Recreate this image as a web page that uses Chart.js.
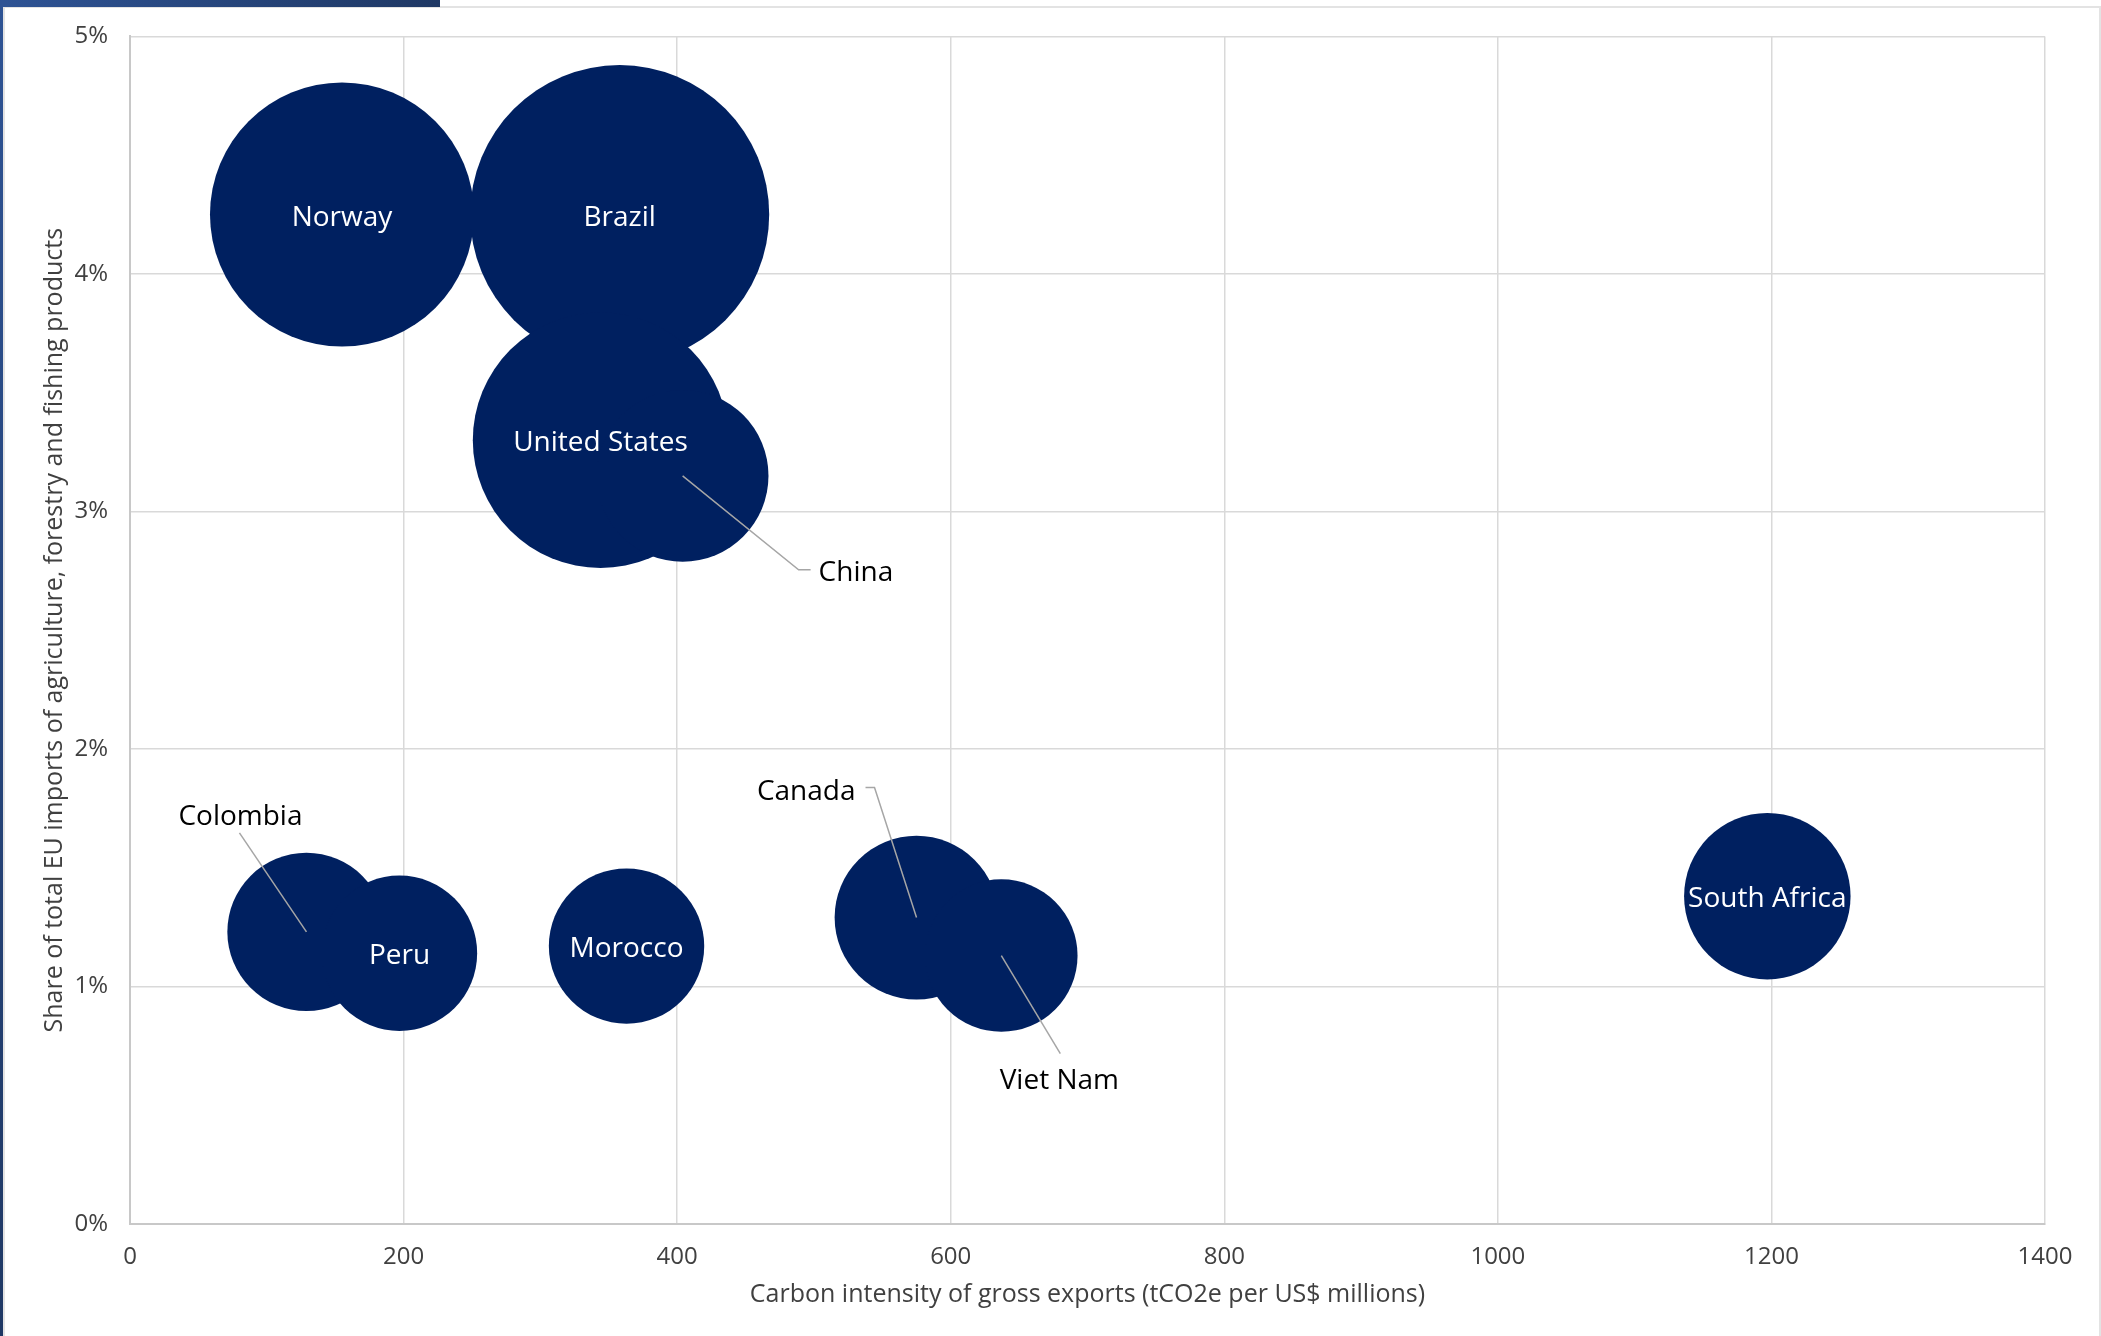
<!DOCTYPE html>
<html>
<head>
<meta charset="utf-8">
<title>EU imports vs carbon intensity</title>
<script src="https://cdn.jsdelivr.net/npm/chart.js@4.4.1/dist/chart.umd.min.js"></script>
<style>
  html, body { margin: 0; padding: 0; background: #fff; }
  body { width: 2101px; height: 1336px; position: relative; overflow: hidden; }
  #topBar { position: absolute; left: 0; top: 0; width: 440px; height: 7px; background: linear-gradient(90deg, #2e5394, #1f3864); z-index: 2; }
  #leftBar { position: absolute; left: 0; top: 0; width: 3px; height: 1336px; background: linear-gradient(180deg, #2e5394, #1f3864); z-index: 2; }
  #frame { position: absolute; left: 3px; top: 6px; width: 2098px; height: 1340px; border: 2px solid #e3e3e3; box-sizing: border-box; }
  #chartBox { position: absolute; left: 0; top: 0; width: 2101px; height: 1336px; }
</style>
</head>
<body>
<div id="topBar"></div>
<div id="leftBar"></div>
<div id="frame"></div>
<div id="chartBox"><canvas id="chart" width="2101" height="1336"></canvas></div>

<script>
// données
const countries = ['Norway', 'Brazil', 'United States', 'China', 'Colombia', 'Peru', 'Morocco', 'Canada', 'Viet Nam', 'South Africa'];
const carbonIntensity = [155, 358, 344, 404, 129, 197, 363, 575, 637, 1197];
const importShare = [4.25, 4.25, 3.30, 3.15, 1.23, 1.14, 1.17, 1.29, 1.13, 1.38];
const bubbleSize = [78, 100, 73, 33, 28, 27, 27, 30, 26, 31];
const xTickValues = [0, 200, 400, 600, 800, 1000, 1200, 1400];
const yTickValues = [0, 1, 2, 3, 4, 5];

// étiquettes dans la bulle ou à l'extérieur avec un trait
const insideLabels = ['Norway', 'Brazil', 'United States', 'Peru', 'Morocco', 'South Africa'];
const callouts = {
    'China':    { line: [[116, 94], [128, 94]], text: [136, 94], align: 'left' },
    'Colombia': { line: [[-67, -99]], text: [-66, -118], align: 'center' },
    'Canada':   { line: [[-42, -130], [-51, -130]], text: [-61, -129], align: 'right' },
    'Viet Nam': { line: [[59, 98]], text: [58, 122], align: 'center' }
};

const BUBBLE_COLOR = '#002060';
const MAX_RADIUS = 149.5;
const TEXT_SHIFT = 3; // petit décalage vertical du texte
const maxSize = Math.max(...bubbleSize);

const points = countries.map((c, i) => ({
    x: carbonIntensity[i],
    y: importShare[i],
    r: MAX_RADIUS * Math.sqrt(bubbleSize[i] / maxSize)
}));

const labelPlugin = {
    id: 'bubbleLabels',
    afterDatasetsDraw(chart) {
        const ctx = chart.ctx;
        const meta = chart.getDatasetMeta(0);
        ctx.save();
        ctx.font = '28px "Open Sans", sans-serif';
        ctx.textBaseline = 'middle';
        meta.data.forEach((el, i) => {
            const name = countries[i];
            if (insideLabels.includes(name)) {
                ctx.fillStyle = '#ffffff';
                ctx.textAlign = 'center';
                ctx.fillText(name, el.x, el.y + TEXT_SHIFT);
            } else if (callouts[name]) {
                const c = callouts[name];
                ctx.strokeStyle = '#a6a6a6';
                ctx.lineWidth = 1.5;
                ctx.beginPath();
                ctx.moveTo(el.x, el.y);
                c.line.forEach(p => ctx.lineTo(el.x + p[0], el.y + p[1]));
                ctx.stroke();
                ctx.fillStyle = '#000000';
                ctx.textAlign = c.align;
                ctx.fillText(name, el.x + c.text[0], el.y + c.text[1] + TEXT_SHIFT);
            }
        });
        ctx.restore();
    }
};

const axisFont = { family: '"Open Sans", sans-serif', size: 24 };
const titleFont = { family: '"Open Sans", sans-serif', size: 25 };

new Chart(document.getElementById('chart'), {
    type: 'bubble',
    data: {
        datasets: [{
            label: 'Countries',
            data: points,
            backgroundColor: BUBBLE_COLOR,
            borderWidth: 0,
            hoverBorderWidth: 0
        }]
    },
    options: {
        responsive: false,
        animation: false,
        layout: { autoPadding: false, padding: { top: 36, right: 56, left: 0, bottom: 0 } },
        plugins: {
            legend: { display: false },
            tooltip: { enabled: false }
        },
        scales: {
            x: {
                type: 'linear',
                min: 0,
                max: 1400,
                afterBuildTicks: s => { s.ticks = xTickValues.map(v => ({ value: v })); },
                afterFit: s => { s.height = 112; },
                ticks: { color: '#404040', font: axisFont, padding: 19, maxRotation: 0, callback: v => String(v) },
                grid: { color: '#d9d9d9', lineWidth: 1.5, drawTicks: false },
                border: { color: '#c8c8c8', width: 2 },
                title: {
                    display: true,
                    text: 'Carbon intensity of gross exports (tCO2e per US$ millions)',
                    color: '#404040',
                    font: titleFont,
                    padding: { top: 0, bottom: 26 }
                }
            },
            y: {
                type: 'linear',
                min: 0,
                max: 5,
                afterBuildTicks: s => { s.ticks = yTickValues.map(v => ({ value: v })); },
                afterFit: s => { s.width = 130; },
                ticks: { color: '#404040', font: axisFont, padding: 22, callback: v => v + '%' },
                grid: { color: '#d9d9d9', lineWidth: 1.5, drawTicks: false },
                border: { color: '#c8c8c8', width: 2 },
                title: {
                    display: true,
                    text: 'Share of total EU imports of agriculture, forestry and fishing products',
                    color: '#404040',
                    font: titleFont,
                    padding: { top: 40, bottom: 0 }
                }
            }
        }
    },
    plugins: [labelPlugin]
});
</script>
</body>
</html>
